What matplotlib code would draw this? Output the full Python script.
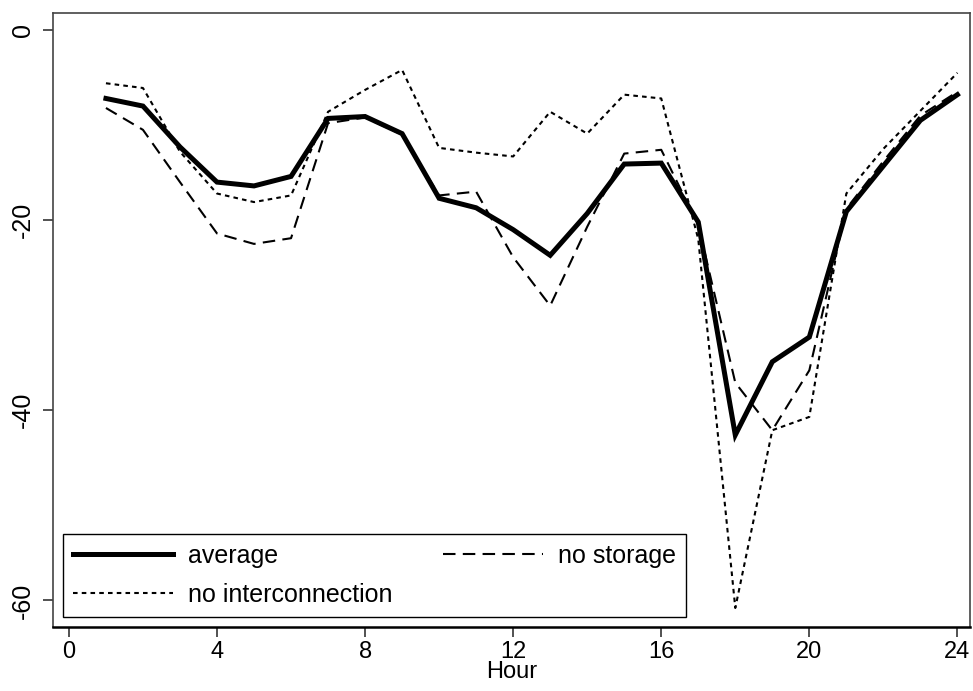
import matplotlib
matplotlib.use('Agg')
from matplotlib import pyplot as plt

# data
hours = list(range(1, 25))
average = [-7.2, -8.0, -12.3, -16.0, -16.4, -15.4, -9.3, -9.1, -10.9, -17.7, -18.7, -21.0,
           -23.7, -19.3, -14.1, -14.0, -20.2, -42.6, -34.9, -32.3, -19.1, -14.3, -9.5, -6.8]
no_storage = [-8.2, -10.5, -16.0, -21.4, -22.5, -21.9, -9.8, -9.2, -11.0, -17.4, -17.0, -23.9,
              -29.0, -20.7, -13.0, -12.6, -20.5, -37.1, -42.1, -35.8, -18.8, -13.8, -9.0, -6.5]
no_interconnection = [-5.6, -6.1, -12.8, -17.2, -18.1, -17.4, -8.6, -6.3, -4.2, -12.4, -12.9, -13.3,
                      -8.6, -10.9, -6.8, -7.2, -22.0, -60.8, -42.1, -40.7, -17.2, -12.5, -8.5, -4.5]
xticks = [0, 4, 8, 12, 16, 20, 24]
yticks = [0, -20, -40, -60]

plt.rcParams['font.family'] = ['Liberation Sans', 'DejaVu Sans']
fs = 18

fig = plt.figure(figsize=(9.73, 6.91), dpi=100)
ax = fig.add_axes([53/973, 1 - 627/691, (970-53)/973, (627-13)/691])

ax.plot(hours, average, color='black', lw=3.6, solid_joinstyle='miter', label='average')
ax.plot(hours, no_storage, color='black', lw=1.5, dashes=(6, 3.5), label='no storage')
ax.plot(hours, no_interconnection, color='black', lw=1.5, dashes=(2.2, 2), label='no interconnection')

ax.set_xlim(-0.43, 24.34)
ax.set_ylim(-62.8, 1.79)
ax.set_xticks(xticks)
ax.set_yticks(yticks)
ax.set_yticklabels([str(v) for v in yticks], rotation=90, va='center')
ax.tick_params(axis='both', labelsize=fs, length=7, width=1.2, direction='out', color='#333333')
ax.tick_params(axis='y', pad=6)
ax.tick_params(axis='x', pad=3, labelsize=17)
ax.set_xlabel('Hour', fontsize=17, labelpad=-1)

for s in ['left', 'top', 'right']:
    ax.spines[s].set_color('#444444')
    ax.spines[s].set_linewidth(1.2)
ax.spines['bottom'].set_color('black')
ax.spines['bottom'].set_linewidth(1.8)

handles, labels = ax.get_legend_handles_labels()
order = [0, 2, 1]
leg = ax.legend([handles[i] for i in order], [labels[i] for i in order],
                ncol=2, loc='lower left', mode='expand',
                bbox_to_anchor=(10/917, 10/614, 623/917, 0.13), borderaxespad=0,
                fontsize=fs, handlelength=4, handletextpad=0.6, borderpad=0.4,
                labelspacing=0.6, fancybox=False, framealpha=1, edgecolor='black')
leg.get_frame().set_linewidth(1.0)

plt.savefig('out.png', dpi=100)
